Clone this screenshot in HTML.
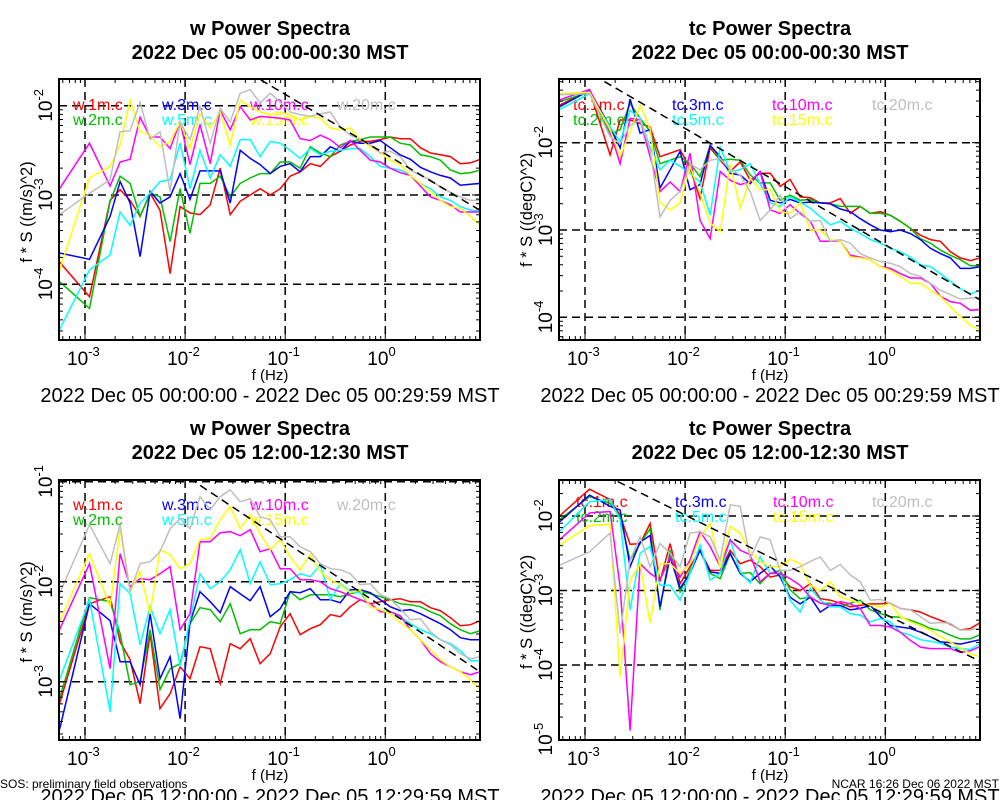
<!DOCTYPE html>
<html><head><meta charset="utf-8"><style>
html,body{margin:0;padding:0;background:#fff;}
svg{display:block;font-family:"Liberation Sans",Arial,sans-serif;}
</style></head><body>
<svg id="chart" width="1000" height="800" viewBox="0 0 1000 800" xmlns="http://www.w3.org/2000/svg">
<rect width="1000" height="800" fill="#fff"/>
<g font-weight="bold" font-size="20" text-anchor="middle" fill="#000">
<text x="270" y="35">w Power Spectra</text>
<text x="270" y="59">2022 Dec 05 00:00-00:30 MST</text>
<text x="770" y="35">tc Power Spectra</text>
<text x="770" y="59">2022 Dec 05 00:00-00:30 MST</text>
<text x="270" y="435">w Power Spectra</text>
<text x="270" y="459">2022 Dec 05 12:00-12:30 MST</text>
<text x="770" y="435">tc Power Spectra</text>
<text x="770" y="459">2022 Dec 05 12:00-12:30 MST</text>
</g>
<g font-size="20" text-anchor="middle" fill="#000">
<text x="270" y="402">2022 Dec 05 00:00:00 - 2022 Dec 05 00:29:59 MST</text>
<text x="770" y="402">2022 Dec 05 00:00:00 - 2022 Dec 05 00:29:59 MST</text>
<text x="270" y="803">2022 Dec 05 12:00:00 - 2022 Dec 05 12:29:59 MST</text>
<text x="770" y="803">2022 Dec 05 12:00:00 - 2022 Dec 05 12:29:59 MST</text>
</g>
<text x="0" y="788" font-size="12" fill="#000">SOS: preliminary field observations</text>
<text x="999" y="788" font-size="12" text-anchor="end" fill="#000">NCAR 16:26 Dec 06 2022 MST</text>
</svg>
<script>
// frequencies (Hz)
const freqHz = [5.56e-4,1.11e-3,1.78e-3,2.24e-3,2.82e-3,3.55e-3,4.47e-3,5.62e-3,7.08e-3,8.91e-3,1.12e-2,1.41e-2,1.78e-2,2.24e-2,2.82e-2,3.55e-2,4.47e-2,5.62e-2,7.08e-2,8.91e-2,0.112,0.141,0.178,0.224,0.282,0.355,0.447,0.562,0.708,0.891,1.12,1.41,1.78,2.24,2.82,3.55,4.47,5.62,7.08,8.91];
const heights = ["1m","2m","3m","5m","10m","15m","20m"];
// values are log10(f*S)
// top-left: w, 00:00-00:30
const tlW1 = [-3.75,-4.14,-3.06,-2.94,-3.06,-3.24,-2.98,-3.17,-3.88,-3.13,-3.2,-3.22,-3.11,-2.70,-3.22,-3.07,-3.0,-2.93,-3.0,-2.93,-2.79,-2.74,-2.65,-2.68,-2.57,-2.51,-2.44,-2.40,-2.40,-2.38,-2.35,-2.37,-2.37,-2.47,-2.53,-2.55,-2.57,-2.65,-2.64,-2.60];
const tlW2 = [-3.97,-4.27,-3.07,-2.79,-2.87,-3.24,-2.98,-3.02,-3.52,-2.93,-3.43,-2.87,-2.87,-2.79,-3.02,-2.87,-2.81,-2.76,-2.76,-2.63,-2.63,-2.70,-2.46,-2.53,-2.57,-2.44,-2.40,-2.38,-2.35,-2.35,-2.35,-2.42,-2.44,-2.55,-2.57,-2.61,-2.72,-2.76,-2.75,-2.72];
const tlW3 = [-3.65,-3.72,-3.24,-2.85,-3.09,-3.69,-2.96,-3.09,-3.02,-2.76,-3.05,-2.73,-2.73,-2.73,-3.09,-2.50,-2.59,-2.66,-2.76,-2.68,-2.65,-2.74,-2.57,-2.57,-2.46,-2.51,-2.40,-2.42,-2.42,-2.39,-2.47,-2.55,-2.60,-2.69,-2.74,-2.78,-2.81,-2.89,-2.88,-2.87];
const tlW5 = [-4.51,-3.84,-3.67,-3.19,-3.34,-3.09,-2.98,-2.85,-2.83,-2.42,-2.93,-2.50,-2.81,-2.55,-2.68,-2.38,-2.38,-2.57,-2.40,-2.42,-2.50,-2.59,-2.48,-2.55,-2.51,-2.50,-2.48,-2.48,-2.57,-2.68,-2.70,-2.72,-2.78,-2.87,-2.93,-3.02,-3.06,-3.13,-3.17,-3.18];
const tlW10 = [-2.93,-2.42,-2.90,-2.63,-2.60,-2.13,-2.35,-2.35,-2.48,-2.18,-2.66,-2.21,-2.65,-2.05,-2.27,-2.01,-2.16,-2.12,-2.13,-2.14,-2.16,-2.37,-2.39,-2.33,-2.38,-2.47,-2.39,-2.50,-2.61,-2.63,-2.70,-2.75,-2.78,-2.90,-3.02,-3.06,-3.11,-3.19,-3.19,-3.19];
const tlW15 = [-3.84,-2.81,-2.68,-2.44,-1.94,-2.29,-2.33,-2.46,-2.40,-2.18,-2.48,-2.09,-2.25,-2.07,-2.44,-1.94,-2.01,-2.07,-2.10,-2.07,-2.10,-2.16,-2.12,-2.14,-2.25,-2.27,-2.25,-2.38,-2.46,-2.53,-2.61,-2.66,-2.78,-2.87,-2.96,-3.06,-3.13,-3.15,-3.24,-3.34];
const tlW20 = [-3.22,-2.98,-2.83,-2.29,-2.28,-1.96,-2.38,-2.29,-2.96,-2.18,-2.38,-2.01,-2.42,-2.03,-2.18,-1.86,-1.82,-1.97,-1.86,-1.96,-2.07,-2.10,-2.12,-2.09,-2.07,-2.24,-2.33,-2.38,-2.44,-2.53,-2.51,-2.57,-2.72,-2.78,-2.83,-2.91,-2.97,-3.02,-3.06,-3.06];
// top-right: tc, 00:00-00:30
const trT1 = [-1.57,-1.40,-2.14,-1.74,-1.74,-1.78,-1.82,-2.16,-2.12,-2.08,-2.29,-2.64,-2.06,-2.20,-2.33,-2.22,-2.43,-2.35,-2.35,-2.50,-2.42,-2.62,-2.63,-2.69,-2.69,-2.64,-2.81,-2.73,-2.81,-2.79,-2.83,-2.90,-2.98,-3.06,-3.11,-3.13,-3.25,-3.32,-3.35,-3.32];
const trT2 = [-1.53,-1.42,-1.91,-1.85,-1.55,-1.72,-1.87,-2.24,-2.20,-2.16,-2.24,-2.39,-2.03,-2.20,-2.19,-2.20,-2.37,-2.46,-2.46,-2.66,-2.60,-2.66,-2.65,-2.69,-2.70,-2.73,-2.73,-2.73,-2.81,-2.81,-2.83,-2.90,-2.98,-3.10,-3.15,-3.23,-3.29,-3.34,-3.41,-3.41];
const trT3 = [-1.59,-1.40,-1.82,-2.06,-1.50,-1.89,-1.85,-2.52,-2.31,-2.10,-2.54,-2.48,-2.03,-2.16,-2.35,-2.37,-2.47,-2.33,-2.66,-2.69,-2.65,-2.69,-2.68,-2.69,-2.70,-2.76,-2.79,-2.87,-2.94,-3.00,-3.02,-3.00,-3.04,-3.11,-3.21,-3.27,-3.32,-3.44,-3.44,-3.42];
const trT5 = [-1.62,-1.44,-1.82,-1.99,-1.63,-1.72,-2.05,-2.31,-2.20,-2.27,-2.35,-2.45,-2.83,-2.05,-2.33,-2.31,-2.24,-2.47,-2.69,-2.73,-2.62,-2.68,-2.75,-2.85,-2.94,-2.90,-2.98,-3.04,-3.11,-3.15,-3.21,-3.25,-3.31,-3.40,-3.42,-3.50,-3.59,-3.67,-3.73,-3.69];
const trT10 = [-1.51,-1.39,-1.87,-2.24,-1.72,-1.74,-2.16,-2.56,-2.45,-2.56,-2.12,-2.89,-3.10,-2.33,-2.43,-2.48,-2.45,-2.33,-2.77,-2.81,-2.71,-2.81,-2.90,-3.13,-3.13,-3.13,-3.29,-3.31,-3.34,-3.42,-3.44,-3.50,-3.55,-3.55,-3.61,-3.76,-3.82,-3.84,-3.92,-3.91];
const trT15 = [-1.44,-1.42,-1.85,-2.16,-1.87,-1.57,-1.84,-2.68,-2.77,-2.69,-2.27,-2.58,-2.92,-3.02,-2.24,-2.75,-2.41,-2.54,-2.54,-2.79,-2.81,-2.69,-3.00,-3.00,-3.11,-3.13,-3.31,-3.32,-3.34,-3.42,-3.46,-3.53,-3.61,-3.61,-3.69,-3.76,-3.88,-3.99,-4.09,-4.15];
const trT20 = [-1.45,-1.44,-1.93,-2.01,-1.80,-1.74,-2.08,-2.85,-2.66,-2.56,-2.24,-2.31,-2.20,-2.18,-2.31,-2.37,-2.56,-2.89,-2.77,-2.60,-2.87,-2.79,-2.90,-2.89,-3.13,-3.11,-3.15,-3.27,-3.32,-3.36,-3.38,-3.42,-3.50,-3.53,-3.61,-3.69,-3.74,-3.79,-3.78,-3.77];
// bottom-left: w, 12:00-12:30
const blW1 = [-3.22,-2.22,-2.15,-2.60,-2.78,-3.22,-2.52,-3.27,-3.12,-2.85,-2.97,-2.65,-2.67,-3.02,-2.62,-2.67,-2.57,-2.82,-2.72,-2.45,-2.32,-2.53,-2.47,-2.43,-2.33,-2.35,-2.25,-2.18,-2.22,-2.20,-2.18,-2.17,-2.20,-2.20,-2.26,-2.29,-2.36,-2.44,-2.43,-2.39];
const blW2 = [-3.17,-2.16,-2.20,-2.52,-3.03,-3.0,-2.48,-3.08,-2.87,-2.82,-2.42,-2.26,-2.28,-2.40,-2.22,-2.52,-2.48,-2.48,-2.40,-2.42,-2.10,-2.18,-2.13,-2.13,-2.13,-2.15,-2.12,-2.10,-2.12,-2.15,-2.18,-2.22,-2.23,-2.25,-2.30,-2.34,-2.42,-2.48,-2.52,-2.49];
const blW3 = [-3.48,-2.22,-2.39,-2.80,-2.80,-3.03,-2.32,-2.97,-2.75,-3.37,-2.41,-2.10,-2.20,-2.31,-2.05,-2.12,-2.19,-2.05,-2.35,-2.27,-2.10,-2.11,-2.07,-2.18,-2.18,-2.21,-2.08,-2.08,-2.11,-2.18,-2.25,-2.29,-2.28,-2.32,-2.37,-2.42,-2.48,-2.56,-2.58,-2.58];
const blW5 = [-2.98,-2.18,-3.30,-2.02,-2.12,-2.63,-2.25,-2.52,-2.28,-2.85,-2.38,-1.92,-2.07,-2.0,-1.88,-1.68,-2.02,-1.80,-2.03,-2.02,-1.98,-1.92,-1.95,-1.83,-2.18,-2.02,-2.10,-2.11,-2.25,-2.28,-2.30,-2.35,-2.42,-2.48,-2.52,-2.58,-2.62,-2.69,-2.79,-2.79];
const blW10 = [-2.48,-1.82,-2.87,-1.72,-2.05,-1.97,-1.98,-1.92,-1.85,-2.48,-2.32,-1.60,-1.60,-1.51,-1.50,-1.54,-1.48,-1.70,-1.67,-1.87,-1.87,-1.98,-1.98,-2.0,-2.07,-2.10,-2.14,-2.18,-2.22,-2.30,-2.30,-2.34,-2.48,-2.58,-2.72,-2.80,-2.85,-2.90,-2.93,-2.90];
const blW15 = [-2.40,-1.72,-2.25,-1.47,-2.10,-1.90,-2.32,-1.68,-1.73,-1.87,-1.82,-1.58,-1.57,-1.38,-1.25,-1.47,-1.33,-1.52,-1.68,-1.58,-1.75,-1.88,-1.73,-1.90,-1.98,-2.03,-2.11,-2.08,-2.25,-2.28,-2.32,-2.41,-2.48,-2.58,-2.68,-2.78,-2.85,-2.90,-2.98,-3.08];
const blW20 = [-2.12,-1.43,-1.82,-1.43,-2.10,-1.82,-1.80,-1.70,-1.47,-1.37,-1.47,-1.15,-1.28,-1.15,-1.08,-1.20,-1.17,-1.35,-1.38,-1.55,-1.55,-1.65,-1.70,-1.82,-1.87,-1.88,-1.92,-2.03,-2.02,-2.13,-2.17,-2.27,-2.38,-2.37,-2.50,-2.58,-2.63,-2.72,-2.77,-2.75];
// bottom-right: tc, 12:00-12:30
const brT1 = [-2.0,-1.64,-1.78,-1.99,-2.38,-2.37,-2.10,-2.88,-2.37,-2.91,-2.68,-2.46,-2.73,-2.73,-2.46,-2.64,-2.59,-2.68,-2.82,-2.79,-2.95,-3.0,-2.91,-3.11,-3.13,-3.17,-3.22,-3.20,-3.18,-3.18,-3.17,-3.24,-3.26,-3.29,-3.35,-3.40,-3.45,-3.53,-3.51,-3.43];
const brT2 = [-2.05,-1.74,-1.83,-2.01,-2.59,-2.37,-2.17,-3.26,-2.46,-3.02,-2.73,-2.46,-2.77,-2.84,-2.51,-2.77,-2.76,-2.91,-2.77,-2.73,-2.99,-3.11,-3.09,-3.17,-3.17,-3.22,-3.17,-3.13,-3.26,-3.31,-3.35,-3.36,-3.40,-3.45,-3.51,-3.54,-3.60,-3.65,-3.65,-3.59];
const brT3 = [-2.08,-1.72,-1.87,-1.92,-2.68,-2.35,-2.26,-3.22,-2.55,-2.97,-2.77,-2.46,-2.75,-2.77,-2.50,-2.77,-2.88,-2.77,-2.67,-2.82,-3.09,-3.18,-3.09,-3.29,-3.20,-3.20,-3.26,-3.24,-3.20,-3.35,-3.47,-3.49,-3.51,-3.56,-3.62,-3.69,-3.70,-3.72,-3.69,-3.66];
const brT5 = [-2.21,-1.81,-1.78,-2.05,-3.26,-2.50,-2.41,-2.93,-2.93,-3.13,-2.77,-2.39,-2.86,-2.77,-2.32,-2.75,-2.90,-2.55,-2.77,-2.77,-3.13,-3.29,-2.97,-3.13,-3.22,-3.22,-3.31,-3.33,-3.42,-3.38,-3.42,-3.56,-3.60,-3.66,-3.68,-3.71,-3.76,-3.78,-3.79,-3.71];
const brT10 = [-2.32,-1.96,-1.94,-2.95,-4.88,-2.64,-2.77,-2.86,-2.55,-2.82,-2.59,-2.21,-2.41,-2.68,-2.32,-2.46,-2.52,-2.88,-2.77,-2.77,-2.84,-2.93,-3.09,-3.17,-3.20,-3.15,-3.18,-3.24,-3.47,-3.47,-3.49,-3.56,-3.67,-3.76,-3.78,-3.78,-3.78,-3.83,-3.81,-3.75];
const brT15 = [-2.39,-2.13,-2.11,-4.16,-2.86,-2.64,-3.44,-2.64,-2.64,-2.77,-2.64,-2.28,-2.10,-2.70,-2.14,-2.23,-2.48,-2.61,-2.68,-2.68,-2.58,-2.64,-2.93,-3.0,-2.88,-3.09,-3.13,-3.17,-3.20,-3.22,-3.17,-3.35,-3.42,-3.47,-3.53,-3.62,-3.69,-3.77,-3.85,-3.89];
const brT20 = [-2.66,-2.48,-2.23,-3.58,-2.59,-2.28,-2.68,-2.37,-2.50,-2.68,-2.23,-2.21,-2.28,-2.59,-1.85,-1.87,-2.57,-2.28,-2.32,-2.73,-2.73,-2.68,-2.61,-2.55,-2.73,-2.65,-2.79,-2.88,-3.13,-3.12,-3.17,-3.24,-3.26,-3.35,-3.44,-3.43,-3.44,-3.53,-3.53,-3.50];
// reference -5/3 spectrum lines: intercept (log10 at f=1 Hz) and slope
const refIntercepts = [-2.54,-3.17,-2.27,-3.32];
const refSlope = -2/3;

const colors = ["#ff0000","#00c000","#0000ff","#00ffff","#ff00ff","#ffff00","#bebebe"];
const NS = "http://www.w3.org/2000/svg";
const svg = document.getElementById("chart");
function mk(tag, attrs, parent){
  const e = document.createElementNS(NS, tag);
  for (const k in attrs) e.setAttribute(k, attrs[k]);
  (parent||svg).appendChild(e);
  return e;
}
const panels = [
  {id:"top-left", ox:0, y0:79, y1:340, yRefLog:-2, yRef:105.7, ypd:89.3, yTicks:[-2,-3,-4], prefix:"w", ytitle:"f * S ((m/s)^2)", series:[tlW1,tlW2,tlW3,tlW5,tlW10,tlW15,tlW20], legY:110, legX:[73,162,250,337], ytitleY:212},
  {id:"top-right", ox:500, y0:79, y1:340, yRefLog:-2, yRef:142.7, ypd:87.3, yTicks:[-2,-3,-4], prefix:"tc", ytitle:"f * S ((degC)^2)", series:[trT1,trT2,trT3,trT5,trT10,trT15,trT20], legY:110, legX:[573,672,772,872], ytitleY:210},
  {id:"bottom-left", ox:0, y0:480, y1:740, yRefLog:-2, yRef:581.7, ypd:100, yTicks:[-1,-2,-3], prefix:"w", ytitle:"f * S ((m/s)^2)", series:[blW1,blW2,blW3,blW5,blW10,blW15,blW20], legY:510, legX:[73,162,250,337], ytitleY:612},
  {id:"bottom-right", ox:500, y0:480, y1:740, yRefLog:-2, yRef:516, ypd:74.5, yTicks:[-2,-3,-4,-5], prefix:"tc", ytitle:"f * S ((degC)^2)", series:[brT1,brT2,brT3,brT5,brT10,brT15,brT20], legY:507, legX:[576,675,773,872], ytitleY:612}
];
panels.forEach((p, pi) => {
  const x0 = p.ox + 59, x1 = p.ox + 480;
  const xs = f => p.ox + 85 + (Math.log10(f) + 3) * 100.1;
  const ys = l => p.yRef - (l - p.yRefLog) * p.ypd;
  const g = mk("g", {});
  
  
  const cid = "clip" + pi;
  const cp = mk("clipPath", {id: cid}, g);
  mk("rect", {x: x0, y: p.y0, width: x1 - x0, height: p.y1 - p.y0}, cp);
  const grid = mk("g", {stroke: "#000", "stroke-width": 1.5, "stroke-dasharray": "8,5", fill: "none", "clip-path": "url(#" + cid + ")"}, g);
  
  
  [-3,-2,-1,0].forEach(d => { const x = xs(Math.pow(10, d)); mk("line", {x1: x, x2: x, y1: p.y0, y2: p.y1}, grid); });
  p.yTicks.forEach(d => { const y = ys(d); if (y > p.y0 + 1 && y < p.y1 - 1) mk("line", {x1: x0, x2: x1, y1: y, y2: y}, grid); });
  const leg = mk("g", {"font-size": 16}, g);
  
  
  heights.forEach((h, i) => {
    const t = mk("text", {x: p.legX[Math.floor(i / 2)], y: p.legY + (i % 2) * 15, fill: colors[i]}, leg);
    t.textContent = p.prefix + "." + h + ".c";
    
    
  });
  const lines = mk("g", {fill: "none", "stroke-width": 1.5, "stroke-linejoin": "miter", "clip-path": "url(#" + cid + ")"}, g);
  p.series.forEach((arr, i) => {
    const d = arr.map((v, k) => (k ? "L" : "M") + xs(freqHz[k]).toFixed(1) + "," + ys(v).toFixed(1)).join("");
    const path = mk("path", {d: d, stroke: colors[i]}, lines);
    
    
  });
  const la = Math.log10(5.56e-4), lb = Math.log10(9);
  const ref = mk("line", {x1: xs(5.56e-4), y1: ys(refIntercepts[pi] + refSlope * la), x2: xs(9), y2: ys(refIntercepts[pi] + refSlope * lb), stroke: "#000", "stroke-width": 1.5, "stroke-dasharray": "8,5", "clip-path": "url(#" + cid + ")"}, g);
  
  
  const tk = mk("g", {stroke: "#000", "stroke-width": 1}, g);
  
  
  for (let d = -4; d <= 1; d++) for (let m = 1; m <= 9; m++) {
    const x = xs(m * Math.pow(10, d)); if (x < x0 || x > x1) continue;
    const L = m === 1 ? 8 : 4;
    mk("line", {x1: x, x2: x, y1: p.y1, y2: p.y1 - L}, tk);
    mk("line", {x1: x, x2: x, y1: p.y0, y2: p.y0 + L}, tk);
  }
  for (let d = -6; d <= 0; d++) for (let m = 1; m <= 9; m++) {
    const y = ys(d + Math.log10(m)); if (y < p.y0 || y > p.y1) continue;
    const L = m === 1 ? 8 : 4;
    mk("line", {x1: x0, x2: x0 + L, y1: y, y2: y}, tk);
    mk("line", {x1: x1, x2: x1 - L, y1: y, y2: y}, tk);
  }
  const fr = mk("rect", {x: x0, y: p.y0, width: x1 - x0, height: p.y1 - p.y0, fill: "none", stroke: "#000", "stroke-width": 2}, g);
  
  
  [-3,-2,-1,0].forEach(d => {
    const x = xs(Math.pow(10, d));
    const t = mk("text", {x: x - 18, y: p.y1 + 25, "font-size": 19, fill: "#000"}, g);
    t.innerHTML = '10<tspan dy="-9" font-size="13">' + d + '</tspan>';
    
    
  });
  const xt = mk("text", {x: p.ox + 270, y: p.y1 + 40, "font-size": 15, "text-anchor": "middle", fill: "#000"}, g);
  xt.textContent = "f (Hz)";
  
  
  p.yTicks.forEach(d => {
    const y = ys(d);
    const t = mk("text", {transform: "translate(" + (p.ox + 52) + "," + (y + 16) + ") rotate(-90)", "font-size": 19, fill: "#000"}, g);
    t.innerHTML = '10<tspan dy="-9" font-size="13">' + d + '</tspan>';
    
    
  });
  const yt = mk("text", {transform: "translate(" + (p.ox + 32) + "," + p.ytitleY + ") rotate(-90)", "font-size": 16.5, "text-anchor": "middle", fill: "#000"}, g);
  yt.textContent = p.ytitle;
  
  
});
</script>
</body></html>
